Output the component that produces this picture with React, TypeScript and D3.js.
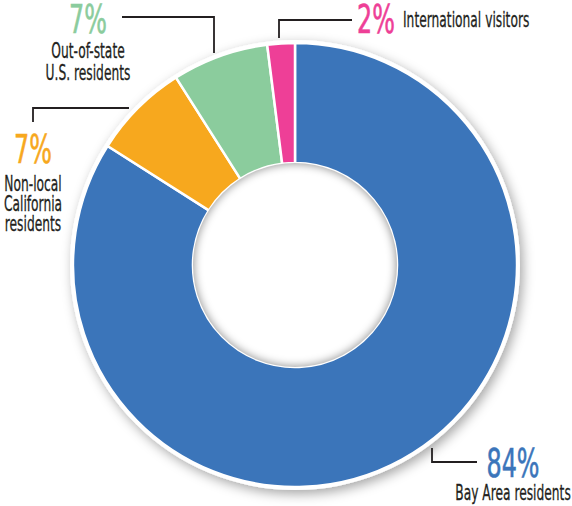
import React from 'react';
import * as d3 from 'd3';

const categories = ['Bay Area residents', 'Non-local California residents', 'Out-of-state U.S. residents', 'International visitors'];
const values = [84, 7, 7, 2];
const pctLabels = ['84%', '7%', '7%', '2%'];
const labelLines = [['Bay Area residents'], ['Non-local', 'California', 'residents'], ['Out-of-state', 'U.S. residents'], ['International visitors']];
const colors = ['#3b75ba', '#f7a81e', '#8bcc9d', '#ee3f97'];

const W = 572, H = 506;
const cx = 295, cy = 265, rOuter = 222, rInner = 102;
const FONT = "'DejaVu Sans Condensed', 'DejaVu Sans', sans-serif";
const SX_LABEL = 0.62, SX_PCT = 0.68;

// annotation layout: leader polyline + text placement
const notes = [
  { line: [[432, 448], [432, 462], [477, 462]], mode: 'stack', x: 513, pctY: 477, firstY: 500, step: 22 },
  { line: [[33, 122], [33, 108], [129, 108]], mode: 'stack', x: 33, pctY: 163, firstY: 191, step: 20 },
  { line: [[122, 17], [214, 17], [214, 53]], mode: 'stack', x: 88, pctY: 33, firstY: 58, step: 22 },
  { line: [[279, 38], [279, 20], [352, 20]], mode: 'inline', x: 357, pctY: 33, firstY: 27, step: 0 },
];

export default function App() {
  const data = categories.map((c, i) => ({ c, v: values[i], i }));
  const pie = d3.pie<any>().value(d => d.v).sort(null);
  const arcs = pie(data);
  const arc = d3.arc<any>().innerRadius(rInner).outerRadius(rOuter);
  const line = d3.line();

  return (
    <svg width={W} height={H} style={{ position: 'absolute', left: 0, top: 0, background: '#fff' }}>
      <defs>
        <filter id="ds" x="-20%" y="-20%" width="140%" height="140%">
          <feDropShadow dx="3" dy="4" stdDeviation="6" floodColor="#000" floodOpacity="0.35" />
        </filter>
        <filter id="blur" x="-20%" y="-20%" width="140%" height="140%">
          <feGaussianBlur stdDeviation="4" />
        </filter>
        <clipPath id="hole">
          <circle cx={cx} cy={cy} r={rInner} />
        </clipPath>
      </defs>
      <circle cx={cx} cy={cy} r={rOuter + 3} fill="#fff" filter="url(#ds)" />
      <g transform={`translate(${cx},${cy})`}>
        {arcs.map((a, i) => (
          <path key={i} d={arc(a) as string} fill={colors[i]} stroke="#fff" strokeWidth={2.5} strokeLinejoin="round" />
        ))}
      </g>
      <circle cx={cx} cy={cy} r={rInner} fill="#fff" />
      <g clipPath="url(#hole)">
        <circle cx={cx} cy={cy} r={rInner + 5} fill="none" stroke="#000" strokeOpacity={0.4} strokeWidth={12} filter="url(#blur)" />
      </g>
      {notes.map((n, i) => (
        <g key={i} fontFamily={FONT}>
          <path d={line(n.line as [number, number][]) as string} fill="none" stroke="#231f20" strokeWidth={1.8} />
          <g transform={`translate(${n.x},${n.pctY}) scale(${SX_PCT},1)`}>
            <text textAnchor={n.mode === 'stack' ? 'middle' : 'start'} fontSize={39} fill={colors[i]} stroke={colors[i]} strokeWidth={0.6}>{pctLabels[i]}</text>
          </g>
          {n.mode === 'stack'
            ? labelLines[i].map((t, j) => (
                <g key={j} transform={`translate(${n.x},${n.firstY + j * n.step}) scale(${SX_LABEL},1)`}>
                  <text textAnchor="middle" fontSize={22} fill="#231f20" stroke="#231f20" strokeWidth={0.3}>{t}</text>
                </g>
              ))
            : (
                <g transform={`translate(403,${n.firstY}) scale(${SX_LABEL},1)`}>
                  <text fontSize={22} fill="#231f20" stroke="#231f20" strokeWidth={0.3}>{labelLines[i][0]}</text>
                </g>
              )}
        </g>
      ))}
    </svg>
  );
}
